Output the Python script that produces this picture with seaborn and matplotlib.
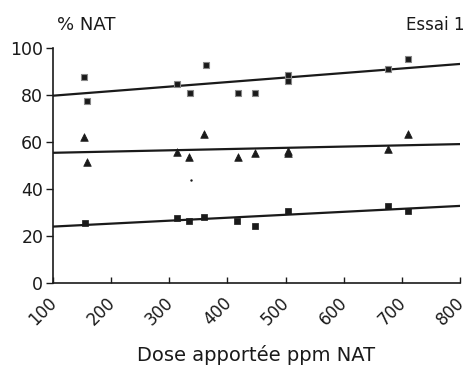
import matplotlib
matplotlib.use("Agg")
import matplotlib.pyplot as plt
import matplotlib.transforms as mtransforms
import seaborn as sns
import pandas as pd

# Data
dose_top = [154, 159, 314, 336, 363, 418, 448, 505, 505, 677, 711]
pct_top = [87.5, 77.4, 84.7, 81.0, 92.6, 80.7, 80.7, 88.5, 86.0, 91.0, 95.2]

dose_mid = [153, 159, 313, 334, 360, 418, 448, 505, 505, 676, 710]
pct_mid = [62.0, 51.4, 55.9, 53.8, 63.4, 53.5, 55.2, 55.2, 56.2, 56.9, 63.4]

dose_low = [155, 313, 334, 360, 417, 447, 505, 676, 710]
pct_low = [25.4, 27.5, 26.4, 28.2, 26.5, 24.3, 30.8, 32.8, 30.8]

dose_stray = [337]
pct_stray = [44.0]

# fitted lines (values at both ends of the dose axis)
line_dose = [100, 800]
line_top = [79.7, 93.2]
line_mid = [55.4, 59.1]
line_low = [24.0, 32.8]

xticks = [100, 200, 300, 400, 500, 600, 700, 800]
yticks = [0, 20, 40, 60, 80, 100]

sns.set_style("white")
plt.rcParams["font.family"] = ["DejaVu Sans"]
ink = "#1a1a1a"

fig = plt.figure(figsize=(4.7, 3.66), dpi=100)
ax = fig.add_axes([0.1128, 0.2268, 0.8659, 0.6421])

top = pd.DataFrame({"dose": dose_top, "pct": pct_top})
mid = pd.DataFrame({"dose": dose_mid, "pct": pct_mid})
low = pd.DataFrame({"dose": dose_low, "pct": pct_low})

sns.scatterplot(data=top, x="dose", y="pct", ax=ax, marker="s", s=22,
                color=ink, edgecolor="#888888", linewidth=0.8, zorder=3)
sns.scatterplot(data=mid, x="dose", y="pct", ax=ax, marker="^", s=30,
                color=ink, edgecolor=ink, linewidth=0.5, zorder=3)
sns.scatterplot(data=low, x="dose", y="pct", ax=ax, marker="s", s=18,
                color=ink, edgecolor=ink, linewidth=0.5, zorder=3)
sns.scatterplot(x=dose_stray, y=pct_stray, ax=ax, marker="o", s=3,
                color=ink, edgecolor=ink, linewidth=0, zorder=3)

for vals in (line_top, line_mid, line_low):
    sns.lineplot(x=line_dose, y=vals, ax=ax, color=ink, linewidth=1.6)

ax.set_xlim(100, 800)
ax.set_ylim(0, 100)
ax.set_xticks(xticks)
ax.set_yticks(yticks)
ax.set_xticklabels([])
ax.set_yticklabels([str(t) for t in yticks], fontsize=12.5, color=ink)

# rotated dose labels, drawn by hand so they can sit a bit left of the ticks
trans = mtransforms.blended_transform_factory(ax.transData, ax.transAxes)
trans = trans + mtransforms.ScaledTranslation(-5 / 100, -11 / 100, fig.dpi_scale_trans)
for t in xticks:
    ax.text(t, 0, str(t), transform=trans, rotation=45, rotation_mode="anchor",
            ha="right", va="top", fontsize=12, color=ink, clip_on=False)

sns.despine(ax=ax)
ax.spines["left"].set_color(ink)
ax.spines["bottom"].set_color(ink)
ax.spines["left"].set_linewidth(1.2)
ax.spines["bottom"].set_linewidth(1.2)
ax.tick_params(axis="y", direction="out", length=5, width=1, color=ink, pad=2, left=True)
ax.tick_params(axis="x", direction="in", length=4, width=1, color=ink, bottom=True)

ax.set_xlabel("Dose apportée ppm NAT", fontsize=14, color=ink, labelpad=0)
ax.xaxis.set_label_coords(0.5, -0.265)
ax.xaxis.label.set_va("top")
ax.set_ylabel("")
fig.text(0.121, 0.932, "% NAT", fontsize=13, color=ink, ha="left", va="center")
fig.text(0.989, 0.932, "Essai 1", fontsize=12, color=ink, ha="right", va="center")

fig.savefig("out.png", dpi=100)
